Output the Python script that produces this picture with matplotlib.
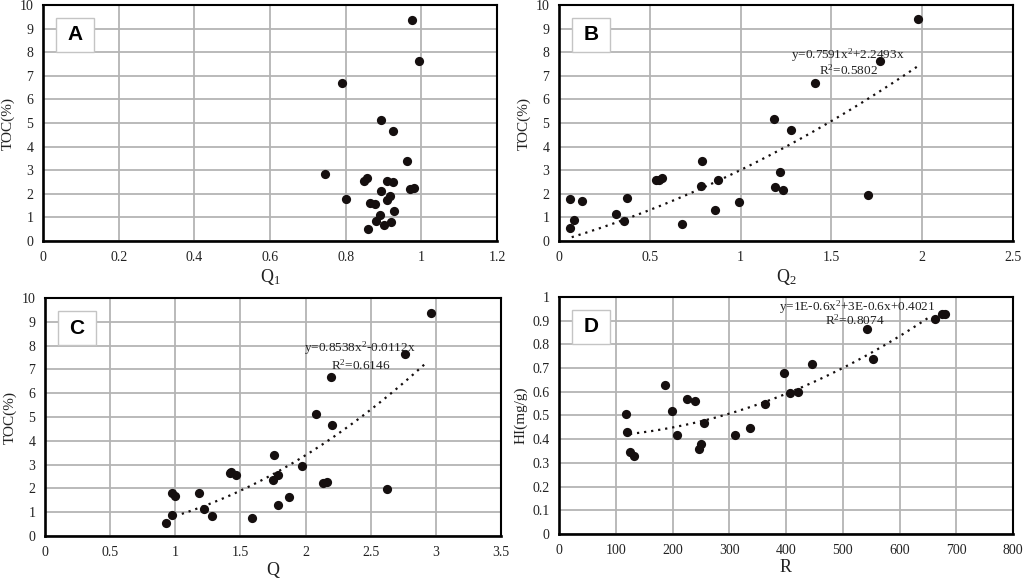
import numpy as np
import matplotlib
matplotlib.use("Agg")
import matplotlib.pyplot as plt
from matplotlib.patches import Rectangle
from matplotlib.ticker import FuncFormatter, MultipleLocator

plt.rcParams['font.family'] = ['Liberation Serif', 'DejaVu Serif']
plt.rcParams['mathtext.fontset'] = 'custom'
plt.rcParams['mathtext.rm'] = 'Liberation Serif'
plt.rcParams['mathtext.it'] = 'Liberation Serif'

# ---------------- data ----------------
# Panel A: Q1 vs TOC
a_q1 = [0.975, 0.994, 0.790, 0.894, 0.926, 0.962, 0.746, 0.848, 0.856, 0.909,
        0.925, 0.971, 0.980, 0.893, 0.916, 0.909, 0.802, 0.863, 0.877, 0.929,
        0.892, 0.881, 0.920, 0.900, 0.859]
a_toc = [9.35, 7.61, 6.68, 5.11, 4.67, 3.39, 2.84, 2.56, 2.67, 2.55,
         2.50, 2.21, 2.26, 2.11, 1.92, 1.73, 1.77, 1.63, 1.57, 1.29,
         1.09, 0.83, 0.81, 0.69, 0.50]

# Panel B: Q2 vs TOC
b_q2 = [1.979, 1.770, 1.407, 1.183, 1.278, 0.787, 1.218, 0.569, 0.550, 0.532,
        0.877, 0.780, 1.187, 1.236, 1.702, 0.062, 0.127, 0.376, 0.992, 0.858,
        0.314, 0.083, 0.360, 0.679, 0.062]
b_toc = [9.41, 7.62, 6.70, 5.19, 4.72, 3.41, 2.91, 2.69, 2.59, 2.57,
         2.57, 2.35, 2.28, 2.16, 1.95, 1.78, 1.70, 1.81, 1.65, 1.33,
         1.16, 0.88, 0.85, 0.74, 0.55]
b_fit = [0.7591, 2.2493, 0.0]      # quadratic coefficients
b_fit_range = [0.07, 1.97]
b_eq = "y=0.7591x$^{2}$+2.2493x"
b_r2 = "R$^{2}$=0.5802"

# Panel C: Q vs TOC
c_q = [2.965, 2.762, 2.199, 2.081, 2.202, 1.754, 1.969, 1.418, 1.428, 1.467,
       1.787, 1.751, 2.130, 2.166, 2.622, 0.978, 0.998, 1.183, 1.869, 1.792,
       1.219, 0.978, 1.280, 1.590, 0.927]
c_toc = [9.37, 7.63, 6.69, 5.11, 4.68, 3.42, 2.94, 2.63, 2.70, 2.56,
         2.58, 2.35, 2.21, 2.28, 1.96, 1.79, 1.69, 1.82, 1.65, 1.30,
         1.15, 0.88, 0.84, 0.74, 0.56]
c_fit = [0.8538, -0.0112, 0.0]
c_fit_range = [1.05, 2.91]
c_eq = "y=0.8538x$^{2}$-0.0112x"
c_r2 = "R$^{2}$=0.6146"

# Panel D: R vs HI
d_r = [680.8, 674.9, 662.0, 543.4, 553.4, 446.6, 396.1, 186.0, 406.7, 421.4,
       224.8, 239.4, 362.7, 198.4, 117.4, 254.7, 335.7, 119.1, 207.2, 311.0,
       250.6, 246.5, 125.0, 132.6]
d_hi = [0.930, 0.930, 0.907, 0.866, 0.738, 0.717, 0.679, 0.630, 0.594, 0.600,
        0.569, 0.561, 0.549, 0.517, 0.507, 0.469, 0.446, 0.430, 0.418, 0.418,
        0.379, 0.358, 0.346, 0.330]
d_fit = [1.265e-6, -4.93e-5, 0.4087]
d_fit_range = [125, 655]
d_eq = "y=1E-0.6x$^{2}$+3E-0.6x+0.4021"
d_r2 = "R$^{2}$=0.8074"

# ---------------- figure ----------------
W, H = 1024, 578
fig = plt.figure(figsize=(W / 100, H / 100), dpi=100)

def px_axes(l, t, r, b):
    return fig.add_axes([l / W, 1 - b / H, (r - l) / W, (b - t) / H])

axA = px_axes(43, 5, 497, 241)
axB = px_axes(559, 5, 1013, 241)
axC = px_axes(45, 298, 501, 536)
axD = px_axes(559, 297, 1013, 534)

MC = '#150f0f'
TC = '#222222'
fmt = FuncFormatter(lambda v, p: ('%g' % round(v, 6)))

def style(ax, xmax, xstep, ymax, ystep, xlabel, ylabel, letter):
    ax.set_xlim(0, xmax)
    ax.set_ylim(0, ymax)
    ax.xaxis.set_major_locator(MultipleLocator(xstep))
    ax.yaxis.set_major_locator(MultipleLocator(ystep))
    ax.xaxis.set_major_formatter(fmt)
    ax.yaxis.set_major_formatter(fmt)
    ax.grid(True, color='#b4b4b4', linewidth=1.3, zorder=0)
    ax.set_axisbelow(True)
    for name, s in ax.spines.items():
        s.set_linewidth(1.9 if name in ('left', 'bottom') else 1.5)
        s.set_color('black')
        s.set_zorder(5)
    ax.tick_params(length=0, pad=7, labelsize=10, labelcolor=TC)
    ax.set_xlabel(xlabel, fontsize=13, labelpad=2, color=TC)
    ax.set_ylabel(ylabel, fontsize=11, labelpad=3, color=TC)
    # letter box
    pos = ax.get_position()
    wpx, hpx = pos.width * W, pos.height * H
    bx, by, bw, bh = 13 / wpx, 1 - (13 + 34) / hpx, 38 / wpx, 34 / hpx
    ax.add_patch(Rectangle((bx, by), bw, bh, transform=ax.transAxes,
                           facecolor='white', edgecolor='#c4c4c4',
                           linewidth=1.0, zorder=3))
    ax.text(bx + bw / 2, by + bh / 2, letter, transform=ax.transAxes,
            ha='center', va='center', fontsize=15, fontweight='bold',
            family=['Liberation Sans', 'DejaVu Sans'], zorder=4)

def trend(ax, coefs, rng):
    xs = np.linspace(rng[0], rng[1], 200)
    ax.plot(xs, np.polyval(coefs, xs), color=MC, linewidth=1.6,
            linestyle=(0, (1, 2.2)), zorder=2)

S = 44

style(axA, 1.2, 0.2, 10, 1, "Q$_{1}$", "TOC(%)", "A")
axA.scatter(a_q1, a_toc, s=S, color=MC, zorder=4, linewidths=0)

style(axB, 2.5, 0.5, 10, 1, "Q$_{2}$", "TOC(%)", "B")
trend(axB, b_fit, b_fit_range)
axB.scatter(b_q2, b_toc, s=S, color=MC, zorder=4, linewidths=0)
axB.text(1.592, 7.88, b_eq, ha='center', va='center', fontsize=9.5, color=TC, zorder=6)
axB.text(1.592, 7.25, b_r2, ha='center', va='center', fontsize=9.5, color=TC, zorder=6)

style(axC, 3.5, 0.5, 10, 1, "Q", "TOC(%)", "C")
trend(axC, c_fit, c_fit_range)
axC.scatter(c_q, c_toc, s=S, color=MC, zorder=4, linewidths=0)
axC.text(2.417, 7.91, c_eq, ha='center', va='center', fontsize=9.5, color=TC, zorder=6)
axC.text(2.424, 7.16, c_r2, ha='center', va='center', fontsize=9.5, color=TC, zorder=6)

style(axD, 800, 100, 1, 0.1, "R", "HI(mg/g)", "D")
trend(axD, d_fit, d_fit_range)
axD.scatter(d_r, d_hi, s=S, color=MC, zorder=4, linewidths=0)
axD.text(525, 0.955, d_eq, ha='center', va='center', fontsize=9.5, color=TC, zorder=6)
axD.text(522, 0.900, d_r2, ha='center', va='center', fontsize=9.5, color=TC, zorder=6)

fig.savefig("out.png", dpi=100, facecolor='white')
